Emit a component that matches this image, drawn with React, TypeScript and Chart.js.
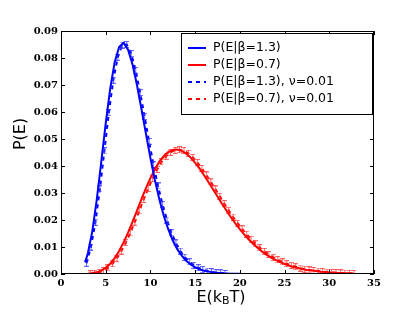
import React, { useEffect, useRef } from "react";
import { Chart, registerables } from "chart.js";
Chart.register(...registerables);

// ---- data ----
const blueE = [2.7, 3, 3.5, 4, 4.5, 5, 5.5, 6, 6.5, 7, 7.5, 8, 8.5, 9, 9.5, 10, 10.5, 11, 11.5, 12, 12.5, 13, 13.5, 14, 14.5, 15, 15.5, 16, 17, 18, 19, 20];
const blueP = [0.0043, 0.0076, 0.0158, 0.0275, 0.0414, 0.0558, 0.0686, 0.0784, 0.0841, 0.0856, 0.0831, 0.0776, 0.0699, 0.061, 0.0519, 0.0429, 0.0348, 0.0276, 0.0215, 0.0165, 0.0124, 0.0092, 0.0068, 0.0049, 0.0035, 0.0025, 0.0017, 0.0012, 0.0006, 0.0003, 0.0001, 0.00005];

const blueDashE = [2.85, 3.35, 3.85, 4.35, 4.85, 5.35, 5.85, 6.35, 6.85, 7.35, 7.85, 8.35, 8.85, 9.35, 9.85, 10.35, 10.85, 11.35, 11.85, 12.35, 12.85, 13.35, 13.85, 14.35, 14.85, 15.35, 15.85, 16.35, 16.85, 17.35, 17.85, 18.35];
const blueDashP = [0.004, 0.01, 0.0192, 0.0315, 0.0456, 0.0597, 0.0718, 0.0803, 0.0848, 0.085, 0.0816, 0.0754, 0.0672, 0.0583, 0.0491, 0.0404, 0.0326, 0.0257, 0.02, 0.0153, 0.0115, 0.0085, 0.0062, 0.0045, 0.0032, 0.0023, 0.0016, 0.0011, 0.0008, 0.0005, 0.0004, 0.0002];

const redE = [3, 3.5, 4, 4.5, 5, 5.5, 6, 6.5, 7, 7.5, 8, 8.5, 9, 9.5, 10, 10.5, 11, 11.5, 12, 12.5, 13, 13.5, 14, 14.5, 15, 15.5, 16, 16.5, 17, 17.5, 18, 18.5, 19, 19.5, 20, 20.5, 21, 21.5, 22, 22.5, 23, 23.5, 24, 24.5, 25, 25.5, 26, 26.5, 27, 27.5, 28, 28.5, 29, 29.5, 30, 30.5, 31, 31.5, 32, 32.7];
const redP = [0.00009, 0.00027, 0.00062, 0.00126, 0.00229, 0.00381, 0.00588, 0.00852, 0.0117, 0.0153, 0.0193, 0.0235, 0.0277, 0.0318, 0.0355, 0.0388, 0.0416, 0.0437, 0.0452, 0.0459, 0.0461, 0.0456, 0.0446, 0.0431, 0.0412, 0.039, 0.0366, 0.034, 0.0314, 0.0287, 0.026, 0.0235, 0.021, 0.0187, 0.0166, 0.0146, 0.0128, 0.0111, 0.0096, 0.0083, 0.0071, 0.0061, 0.0052, 0.0044, 0.0037, 0.0031, 0.0026, 0.0022, 0.0018, 0.0015, 0.0013, 0.0011, 0.00086, 0.00071, 0.00058, 0.00048, 0.00039, 0.00032, 0.00026, 0.0002];

const redDashE = [3.25, 3.75, 4.25, 4.75, 5.25, 5.75, 6.25, 6.75, 7.25, 7.75, 8.25, 8.75, 9.25, 9.75, 10.25, 10.75, 11.25, 11.75, 12.25, 12.75, 13.25, 13.75, 14.25, 14.75, 15.25, 15.75, 16.25, 16.75, 17.25, 17.75, 18.25, 18.75, 19.25, 19.75, 20.25, 20.75, 21.25, 21.75, 22.25, 22.75, 23.25, 23.75, 24.25, 24.75, 25.25, 25.75, 26.25, 26.75, 27.25, 27.75, 28.25, 28.75, 29.25, 29.75, 30.25, 30.75, 31.25, 31.75, 32.25, 32.75];
const redDashP = [0.00009, 0.00026, 0.00061, 0.00124, 0.00226, 0.00378, 0.00584, 0.00848, 0.0116, 0.0152, 0.0192, 0.0234, 0.0276, 0.0317, 0.0354, 0.0387, 0.0415, 0.0436, 0.0451, 0.0458, 0.046, 0.0457, 0.0447, 0.0432, 0.0413, 0.0391, 0.0367, 0.0341, 0.0315, 0.0288, 0.0261, 0.0236, 0.0211, 0.0188, 0.0167, 0.0147, 0.0129, 0.0112, 0.0097, 0.0084, 0.0072, 0.0062, 0.0053, 0.0045, 0.0038, 0.0032, 0.0027, 0.0022, 0.0018, 0.0015, 0.0013, 0.0011, 0.00087, 0.00072, 0.00059, 0.00049, 0.0004, 0.00033, 0.00027, 0.00021];

const xTicks = [0, 5, 10, 15, 20, 25, 30, 35];
const yTicks = [0, 0.01, 0.02, 0.03, 0.04, 0.05, 0.06, 0.07, 0.08, 0.09];

const legendLabels = ["P(E|β=1.3)", "P(E|β=0.7)", "P(E|β=1.3), ν=0.01", "P(E|β=0.7), ν=0.01"];
const legendColors = ["#0000ff", "#ff0000", "#0000ff", "#ff0000"];
const legendDashed = [false, false, true, true];

function pts(xs: number[], ys: number[]) {
  return xs.map((x, i) => ({ x, y: ys[i] }));
}

function errMarker(color: string) {
  const c = document.createElement("canvas");
  c.width = 5;
  c.height = 7;
  const g = c.getContext("2d")!;
  g.strokeStyle = color;
  g.lineWidth = 1;
  g.beginPath();
  g.moveTo(2.5, 0);
  g.lineTo(2.5, 7);
  g.moveTo(0, 0.5);
  g.lineTo(5, 0.5);
  g.moveTo(0, 6.5);
  g.lineTo(5, 6.5);
  g.stroke();
  return c;
}

const decor = {
  id: "decor",
  afterDraw(chart: any) {
    const ctx = chart.ctx;
    const { left, right, top, bottom } = chart.chartArea;
    const xs = chart.scales.x;
    const ys = chart.scales.y;
    ctx.save();
    // frame
    ctx.strokeStyle = "#000";
    ctx.lineWidth = 1;
    ctx.strokeRect(Math.round(left) + 0.5, Math.round(top) + 0.5, Math.round(right - left) - 1, Math.round(bottom - top) - 1);
    // inward ticks
    const tl = 4;
    ctx.beginPath();
    xTicks.forEach((v) => {
      const px = Math.round(xs.getPixelForValue(v)) + 0.5;
      ctx.moveTo(px, bottom);
      ctx.lineTo(px, bottom - tl);
      ctx.moveTo(px, top);
      ctx.lineTo(px, top + tl);
    });
    yTicks.forEach((v) => {
      const py = Math.round(ys.getPixelForValue(v)) + 0.5;
      ctx.moveTo(left, py);
      ctx.lineTo(left + tl, py);
      ctx.moveTo(right, py);
      ctx.lineTo(right - tl, py);
    });
    ctx.stroke();

    // y title
    ctx.fillStyle = "#000";
    ctx.font = "16px 'DejaVu Sans'";
    ctx.textAlign = "center";
    ctx.textBaseline = "middle";
    ctx.save();
    ctx.translate(21, 134);
    ctx.rotate(-Math.PI / 2);
    ctx.fillText("P(E)", 0, 0);
    ctx.restore();

    // x title with subscript
    const p1 = "E(k";
    const sub = "B";
    const p2 = "T)";
    ctx.textAlign = "left";
    ctx.textBaseline = "alphabetic";
    ctx.font = "16px 'DejaVu Sans'";
    const w1 = ctx.measureText(p1).width;
    const w3 = ctx.measureText(p2).width;
    ctx.font = "11px 'DejaVu Sans'";
    const w2 = ctx.measureText(sub).width;
    const total = w1 + w2 + w3;
    let x0 = 221 - total / 2;
    const base = 302;
    ctx.font = "16px 'DejaVu Sans'";
    ctx.fillText(p1, x0, base);
    ctx.font = "11px 'DejaVu Sans'";
    ctx.fillText(sub, x0 + w1, base + 2);
    ctx.font = "16px 'DejaVu Sans'";
    ctx.fillText(p2, x0 + w1 + w2, base);

    // legend
    const lx = 181, ly = 33, lw = 191, lh = 81;
    ctx.fillStyle = "#fff";
    ctx.fillRect(lx, ly, lw, lh);
    ctx.strokeStyle = "#000";
    ctx.lineWidth = 1;
    ctx.strokeRect(lx + 0.5, ly + 0.5, lw, lh);
    const rows = [48, 65, 82, 99];
    ctx.font = "12.5px 'DejaVu Sans'";
    ctx.textBaseline = "middle";
    ctx.textAlign = "left";
    legendLabels.forEach((lab, i) => {
      ctx.strokeStyle = legendColors[i];
      ctx.lineWidth = 2;
      ctx.setLineDash(legendDashed[i] ? [4, 4] : []);
      ctx.beginPath();
      ctx.moveTo(188, rows[i]);
      ctx.lineTo(206, rows[i]);
      ctx.stroke();
      ctx.setLineDash([]);
      ctx.fillStyle = "#000";
      ctx.fillText(lab, 213, rows[i]);
    });
    ctx.restore();
  },
};

export default function App() {
  const ref = useRef<HTMLCanvasElement>(null);
  useEffect(() => {
    document.body.style.margin = "0";
    const blueMark = errMarker("rgba(60,60,255,0.75)");
    const redMark = errMarker("rgba(255,60,60,0.75)");
    const chart = new Chart(ref.current!, {
      type: "line",
      data: {
        datasets: [
          {
            data: pts(blueE, blueP),
            borderColor: "#0000ff",
            borderWidth: 2,
            pointRadius: 0,
            fill: false,
          },
          {
            data: pts(redE, redP),
            borderColor: "#ff0000",
            borderWidth: 2,
            pointRadius: 0,
            fill: false,
          },
          {
            data: pts(blueDashE, blueDashP),
            borderColor: "#0000ff",
            borderWidth: 2,
            borderDash: [4, 4],
            pointStyle: blueMark as any,
            pointRadius: 3,
            fill: false,
          },
          {
            data: pts(redDashE, redDashP),
            borderColor: "#ff0000",
            borderWidth: 2,
            borderDash: [4, 4],
            pointStyle: redMark as any,
            pointRadius: 3,
            fill: false,
          },
        ],
      },
      options: {
        animation: false,
        responsive: false,
        devicePixelRatio: 1,
        layout: { padding: { left: 0, right: 41, top: 31, bottom: 0 } },
        plugins: { legend: { display: false }, tooltip: { enabled: false } },
        elements: { line: { tension: 0 } },
        scales: {
          x: {
            type: "linear",
            min: 0,
            max: 35,
            afterFit: (s: any) => { s.height = 42; },
            afterBuildTicks: (s: any) => { s.ticks = xTicks.map((v) => ({ value: v })); },
            grid: { display: false, drawTicks: false },
            border: { display: false },
            ticks: {
              padding: 3,
              color: "#000",
              font: { family: "'DejaVu Serif'", weight: "bold", size: 10 },
              callback: (v: any) => String(v),
            },
          },
          y: {
            type: "linear",
            min: 0,
            max: 0.09,
            afterFit: (s: any) => { s.width = 61; },
            afterBuildTicks: (s: any) => { s.ticks = yTicks.map((v) => ({ value: v })); },
            grid: { display: false, drawTicks: false },
            border: { display: false },
            ticks: {
              padding: 3,
              color: "#000",
              font: { family: "'DejaVu Serif'", weight: "bold", size: 10 },
              callback: (v: any) => Number(v).toFixed(2),
            },
          },
        },
      },
      plugins: [decor],
    });
    return () => chart.destroy();
  }, []);
  return (
    <div style={{ position: "absolute", left: 0, top: 0, width: 415, height: 316, background: "#fff" }}>
      <canvas ref={ref} width={415} height={316} style={{ display: "block" }} />
    </div>
  );
}
